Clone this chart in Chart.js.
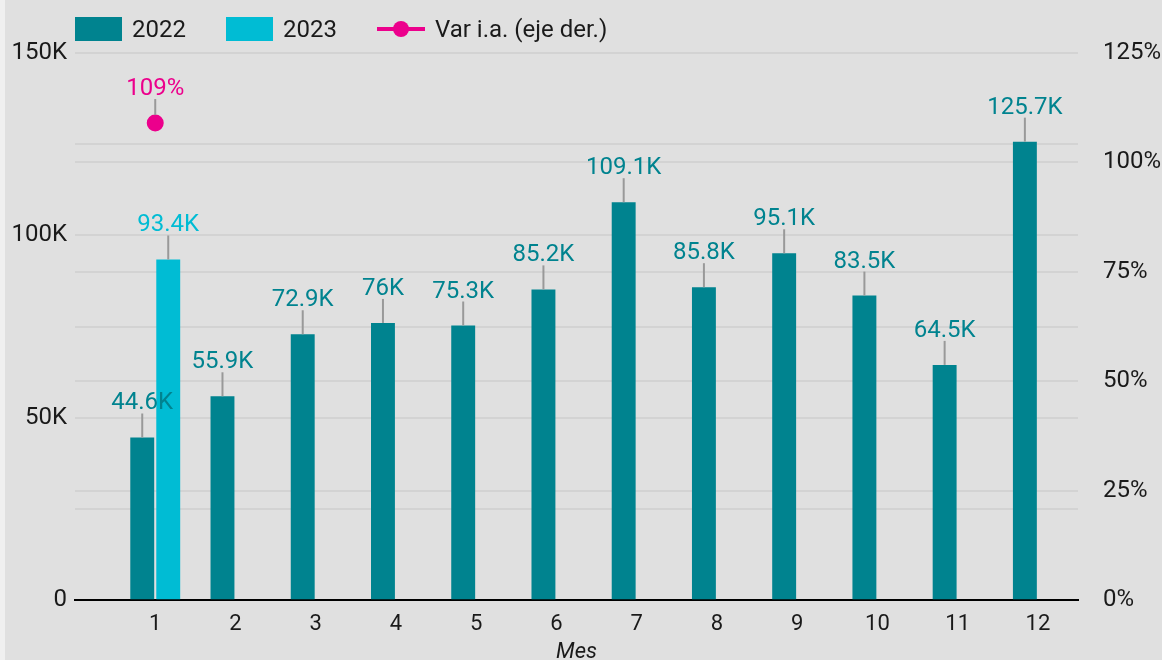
<!DOCTYPE html>
<html lang="es">
<head>
<meta charset="UTF-8">
<title>Mes</title>
<script src="https://cdn.jsdelivr.net/npm/chart.js"></script>
<style>
  html, body { margin: 0; padding: 0; background: #f0f0f0; }
  .wrap { position: absolute; left: 5px; top: 0; width: 1157px; height: 660px; background: #e0e0e0; overflow: hidden; }
  canvas { position: absolute; left: 0; top: 0; }
  .legend { position: absolute; left: 70px; top: 17px; display: flex; gap: 40px; font: 24px Roboto, sans-serif; color: #1a1a1a; line-height: 24px; z-index: 2; }
  .legend .item { display: flex; align-items: center; gap: 10px; }
  .legend .box { width: 47px; height: 24px; }
  .legend .ln { width: 48px; height: 24px; position: relative; }
  .legend .ln::before { content: ''; position: absolute; left: 0; right: 0; top: 10px; height: 4px; background: #ec008c; }
  .legend .ln::after { content: ''; position: absolute; left: 16px; top: 4px; width: 16px; height: 16px; border-radius: 50%; background: #ec008c; }
</style>
</head>
<body>
<div class="wrap">
  <div class="legend">
    <div class="item"><span class="box" style="background:#00838f"></span><span>2022</span></div>
    <div class="item"><span class="box" style="background:#00bcd4"></span><span>2023</span></div>
    <div class="item"><span class="ln"></span><span>Var i.a. (eje der.)</span></div>
  </div>
  <canvas id="chart" width="1157" height="660"></canvas>
</div>
<script>
// data
const months = [1, 2, 3, 4, 5, 6, 7, 8, 9, 10, 11, 12];
const ventas2022 = [44600, 55900, 72900, 76000, 75300, 85200, 109100, 85800, 95100, 83500, 64500, 125700];
const ventas2023 = [93400, null, null, null, null, null, null, null, null, null, null, null];
const varIA = [109, null, null, null, null, null, null, null, null, null, null, null];

const leftTicks = [0, 50000, 100000, 150000];
const rightTicks = [0, 25, 50, 75, 100, 125];

const TEAL = '#00838f';
const CYAN = '#00bcd4';
const MAGENTA = '#ec008c';
const GRID = '#d3d3d3';

const pts = arr => months.map((m, i) => ({ x: m, y: arr[i] }));

function fmtK(v) {
  let s = (v / 1000).toFixed(1);
  if (s.endsWith('.0')) s = s.slice(0, -2);
  return s + 'K';
}

// value labels with a short leader line, like the original
const valueLabels = {
  id: 'valueLabels',
  afterDatasetsDraw(chart) {
    const ctx = chart.ctx;
    ctx.save();
    chart.data.datasets.forEach((ds, i) => {
      const meta = chart.getDatasetMeta(i);
      meta.data.forEach((el, j) => {
        const v = ds.data[j].y;
        if (v == null) return;
        const x = el.x, y = el.y;
        ctx.strokeStyle = '#999999';
        ctx.lineWidth = 2;
        ctx.beginPath();
        ctx.moveTo(x, y - (ds.type === 'line' ? 8 : 0));
        ctx.lineTo(x, y - 24);
        ctx.stroke();
        ctx.fillStyle = ds.type === 'line' ? MAGENTA : ds.backgroundColor;
        ctx.font = '24px Roboto';
        ctx.textAlign = 'center';
        ctx.textBaseline = 'alphabetic';
        ctx.fillText(ds.type === 'line' ? v + '%' : fmtK(v), x, y - 28);
      });
    });
    ctx.restore();
  }
};

new Chart(document.getElementById('chart'), {
  type: 'bar',
  data: {
    datasets: [
      {
        type: 'line',
        label: 'Var i.a. (eje der.)',
        data: pts(varIA),
        yAxisID: 'y1',
        borderColor: MAGENTA,
        backgroundColor: MAGENTA,
        pointRadius: 7,
        pointHoverRadius: 7,
        borderWidth: 3,
        order: 0
      },
      {
        label: '2022',
        data: pts(ventas2022),
        backgroundColor: TEAL,
        categoryPercentage: 0.648,
        barPercentage: 0.92,
        order: 1
      },
      {
        label: '2023',
        data: pts(ventas2023),
        backgroundColor: CYAN,
        categoryPercentage: 0.648,
        barPercentage: 0.92,
        order: 1
      }
    ]
  },
  options: {
    responsive: false,
    animation: false,
    layout: { padding: { top: 53, bottom: -6, left: 0, right: 0 } },
    plugins: {
      legend: { display: false },
      tooltip: { enabled: false }
    },
    scales: {
      x: {
        type: 'linear',
        min: 0,
        max: 12.5,
        offset: false,
        grid: { display: false, drawTicks: false },
        border: { display: true, color: '#000', width: 2 },
        afterBuildTicks(scale) { scale.ticks = months.map(m => ({ value: m })); },
        ticks: { color: '#1a1a1a', font: { family: 'Roboto', size: 22 }, padding: 11, autoSkip: false },
        title: {
          display: true,
          text: 'Mes',
          color: '#1a1a1a',
          font: { family: 'Roboto', size: 22, style: 'italic' },
          padding: { top: -9, bottom: 0 }
        }
      },
      y: {
        position: 'left',
        min: 0,
        max: 150000,
        grid: { color: GRID, lineWidth: 2, drawTicks: false },
        border: { display: false },
        ticks: {
          stepSize: 25000,
          autoSkip: false,
          padding: 8,
          color: '#1a1a1a',
          font: { family: 'Roboto', size: 24 },
          callback: v => leftTicks.includes(v) ? (v === 0 ? '0' : v / 1000 + 'K') : ''
        },
        afterFit(scale) { scale.width = 70; }
      },
      y1: {
        position: 'right',
        min: 0,
        max: 125,
        grid: { color: GRID, lineWidth: 2, drawTicks: false },
        border: { display: false },
        ticks: {
          stepSize: 25,
          autoSkip: false,
          padding: 25,
          color: '#1a1a1a',
          font: { family: 'Roboto', size: 24 },
          callback: v => rightTicks.includes(v) ? v + '%' : ''
        },
        afterFit(scale) { scale.width = 84; }
      }
    }
  },
  plugins: [valueLabels]
});
</script>
</body>
</html>
